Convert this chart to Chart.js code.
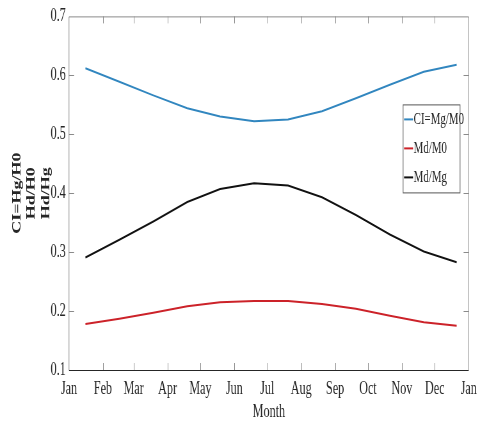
<!DOCTYPE html>
<html>
<head>
<meta charset="utf-8">
<script src="https://cdn.jsdelivr.net/npm/chart.js"></script>
<style>
  html, body { margin: 0; padding: 0; background: #fff; overflow: hidden; }
  /* the figure is horizontally squeezed, so draw wide and compress */
  #wrap { width: 753px; height: 423px; transform: scaleX(0.64); transform-origin: 0 0; }
</style>
</head>
<body>
<div id="wrap"><canvas id="chart" width="753" height="423"></canvas></div>
<script>
// day of year for each sample
const days = [15, 46, 77, 108, 138, 169, 200, 231, 262, 293, 324, 354];
const ciValues = [0.612, 0.589, 0.566, 0.544, 0.530, 0.522, 0.525, 0.539, 0.561, 0.584, 0.606, 0.618];
const mdM0Values = [0.178, 0.187, 0.197, 0.208, 0.215, 0.217, 0.217, 0.212, 0.204, 0.192, 0.181, 0.175];
const mdMgValues = [0.291, 0.321, 0.352, 0.385, 0.407, 0.417, 0.413, 0.393, 0.363, 0.330, 0.301, 0.283];

const monthStarts = [0, 31, 59, 90, 120, 151, 181, 212, 243, 273, 304, 334, 365];
const monthLabels = ['Jan', 'Feb', 'Mar', 'Apr', 'May', 'Jun', 'Jul', 'Aug', 'Sep', 'Oct', 'Nov', 'Dec', 'Jan'];
const yTicks = [0.1, 0.2, 0.3, 0.4, 0.5, 0.6, 0.7];

const seriesLabels = ['CI=Mg/M0', 'Md/M0', 'Md/Mg'];
const seriesColors = ['#3186bf', '#cc2229', '#111111'];
const yTitle = ['CI=Hg/H0', 'Hd/H0', 'Hd/Hg'];

function points(vals) {
    return vals.map((v, i) => ({ x: days[i], y: v }));
}

const frame = {
    id: 'frame',
    afterDraw(chart) {
        const ctx = chart.ctx;
        const a = chart.chartArea;
        const x = chart.scales.x, y = chart.scales.y;
        ctx.save();

        // inward tick marks on all four sides
        ctx.strokeStyle = '#8a8a8a';
        ctx.lineWidth = 1;
        ctx.beginPath();
        monthStarts.slice(1, -1).forEach(v => {
            const px = Math.round(x.getPixelForValue(v)) + 0.5;
            ctx.moveTo(px, a.bottom); ctx.lineTo(px, a.bottom - 7);
            ctx.moveTo(px, a.top); ctx.lineTo(px, a.top + 7);
        });
        yTicks.slice(1, -1).forEach(v => {
            const py = Math.round(y.getPixelForValue(v)) + 0.5;
            ctx.moveTo(a.left, py); ctx.lineTo(a.left + 8, py);
            ctx.moveTo(a.right, py); ctx.lineTo(a.right - 8, py);
        });
        ctx.stroke();

        // box
        ctx.strokeStyle = '#8a8a8a';
        ctx.beginPath();
        ctx.moveTo(a.left, a.bottom); ctx.lineTo(a.left, a.top + 0.5);
        ctx.lineTo(a.right, a.top + 0.5); ctx.lineTo(a.right, a.bottom);
        ctx.stroke();
        ctx.strokeStyle = '#262626';
        ctx.beginPath();
        ctx.moveTo(a.left, Math.round(a.bottom) + 0.5);
        ctx.lineTo(a.right, Math.round(a.bottom) + 0.5);
        ctx.stroke();

        // legend
        const bx = a.right - 103, by = a.top + 88, bw = 89, bh = 88;
        ctx.fillStyle = '#fff';
        ctx.fillRect(bx, by, bw, bh);
        ctx.strokeStyle = '#555';
        ctx.strokeRect(bx + 0.5, by + 0.5, bw, bh);
        ctx.font = '17px "Liberation Serif"';
        ctx.textBaseline = 'middle';
        chart.data.datasets.forEach((ds, i) => {
            const ly = by + 15 + i * 29;
            ctx.strokeStyle = ds.borderColor;
            ctx.lineWidth = 2;
            ctx.beginPath();
            ctx.moveTo(bx + 2, ly); ctx.lineTo(bx + 16, ly);
            ctx.stroke();
            ctx.fillStyle = '#262626';
            ctx.fillText(ds.label, bx + 17, ly);
        });
        ctx.restore();
    }
};

new Chart(document.getElementById('chart'), {
    type: 'line',
    data: {
        datasets: [
            { label: seriesLabels[0], data: points(ciValues), borderColor: seriesColors[0] },
            { label: seriesLabels[1], data: points(mdM0Values), borderColor: seriesColors[1] },
            { label: seriesLabels[2], data: points(mdMgValues), borderColor: seriesColors[2] }
        ]
    },
    options: {
        responsive: false,
        animation: false,
        layout: { padding: { top: 12, right: 15.5, left: 0, bottom: 0 } },
        elements: {
            line: { borderWidth: 2, tension: 0 },
            point: { radius: 0 }
        },
        plugins: {
            legend: { display: false },
            tooltip: { enabled: false }
        },
        scales: {
            x: {
                type: 'linear',
                min: 0,
                max: 365,
                afterBuildTicks: s => { s.ticks = monthStarts.map(v => ({ value: v })); },
                afterFit: s => { s.height = 53; },
                grid: { display: false, drawTicks: false },
                border: { display: false },
                ticks: {
                    padding: 8,
                    autoSkip: false,
                    maxRotation: 0,
                    color: '#262626',
                    font: { family: 'Liberation Serif', size: 19 },
                    callback: (v, i) => monthLabels[i]
                },
                title: {
                    display: true,
                    text: 'Month',
                    color: '#262626',
                    font: { family: 'Liberation Serif', size: 19 },
                    padding: { top: 0, bottom: 0 }
                }
            },
            y: {
                min: 0.1,
                max: 0.7,
                afterBuildTicks: s => { s.ticks = yTicks.map(v => ({ value: v })); },
                afterFit: s => { s.width = 107.8; },
                grid: { display: false, drawTicks: false },
                border: { display: false },
                ticks: {
                    padding: 5,
                    color: '#262626',
                    font: { family: 'Liberation Serif', size: 19 },
                    callback: v => v.toFixed(1)
                },
                title: {
                    display: true,
                    text: yTitle,
                    color: '#262626',
                    font: { family: 'Liberation Serif', size: 18, weight: 'bold', lineHeight: 1.25 },
                    padding: { top: 16, bottom: 0 }
                }
            }
        }
    },
    plugins: [frame]
});
</script>
</body>
</html>
